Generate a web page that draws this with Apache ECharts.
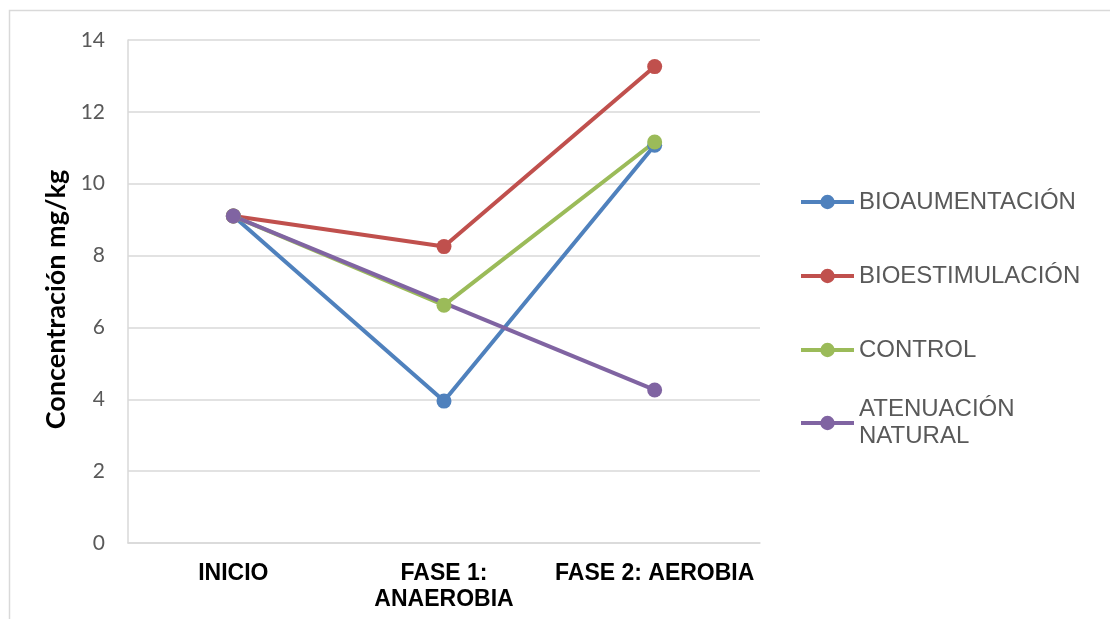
<!DOCTYPE html>
<html>
<head>
<meta charset="utf-8">
<script src="https://cdn.jsdelivr.net/npm/echarts@6/dist/echarts.min.js"></script>
<style>
  html, body { margin: 0; padding: 0; background: #fff; }
  #chart { width: 1110px; height: 619px; }
</style>
</head>
<body>
<div id="chart"></div>
<script>
// Sampling stages along the treatment
const categories = ['INICIO', 'FASE 1:\nANAEROBIA', 'FASE 2: AEROBIA'];

// Concentration (mg/kg) per treatment and stage
const bioaumentacion = [9.1, 3.95, 11.07];
const bioestimulacion = [9.1, 8.25, 13.26];
const control = [9.1, 6.62, 11.16];
const atenuacionNatural = [9.1, null, 4.26];

const yTicks = { min: 0, max: 14, interval: 2 };

const seriesDefs = [
  { name: 'BIOAUMENTACIÓN', data: bioaumentacion, color: '#4F81BD' },
  { name: 'BIOESTIMULACIÓN', data: bioestimulacion, color: '#C0504D' },
  { name: 'CONTROL', data: control, color: '#9BBB59' },
  { name: 'ATENUACIÓN NATURAL', data: atenuacionNatural, color: '#8064A2' }
];

const legendCenters = [202, 276, 350, 423];

const chart = echarts.init(document.getElementById('chart'), null, { renderer: 'canvas' });

const legendText = { fontFamily: 'Liberation Sans, Arial, sans-serif', fontSize: 24, color: '#595959' };

const legends = seriesDefs.map((s, i) => {
  const multi = s.name.indexOf(' ') > 0;
  return {
    orient: 'vertical',
    left: 799,
    top: multi ? legendCenters[i] - 40.5 : legendCenters[i] - 13.5,
    data: [s.name],
    itemWidth: 53,
    itemHeight: 18,
    itemGap: 0,
    padding: 0,
    selectedMode: false,
    lineStyle: { width: 4 },
    formatter: multi ? (n) => n.replace(' ', '\n') : '{name}',
    textStyle: multi
      ? Object.assign({}, legendText, { lineHeight: 27, padding: [27, 0, 0, 0] })
      : Object.assign({}, legendText, { lineHeight: 27 })
  };
});

chart.setOption({
  animation: false,
  backgroundColor: '#ffffff',
  graphic: [{
    type: 'rect',
    shape: { x: 9.5, y: 10.5, width: 1300, height: 800 },
    style: { fill: 'none', stroke: '#D9D9D9', lineWidth: 1.5 },
    silent: true,
    z: -10
  }],
  grid: { left: 128, right: 350, top: 40, bottom: 76, containLabel: false },
  legend: legends,
  xAxis: {
    type: 'category',
    data: categories,
    boundaryGap: true,
    axisLine: { show: true, lineStyle: { color: '#D9D9D9', width: 1.5 } },
    axisTick: { show: false },
    axisLabel: {
      margin: 18,
      interval: 0,
      fontFamily: 'Liberation Sans, Arial, sans-serif',
      fontWeight: 'bold',
      fontSize: 23,
      lineHeight: 26,
      color: '#000000'
    },
    splitLine: { show: false }
  },
  yAxis: {
    type: 'value',
    min: yTicks.min,
    max: yTicks.max,
    interval: yTicks.interval,
    name: 'Concentración mg/kg',
    nameLocation: 'middle',
    nameGap: 56,
    nameRotate: 90,
    nameTextStyle: {
      fontFamily: 'Lato, sans-serif',
      fontWeight: 'bold',
      fontSize: 27,
      color: '#000000',
      padding: [0, 16, 0, 0]
    },
    axisLine: { show: true, lineStyle: { color: '#D9D9D9', width: 1.5 } },
    axisTick: { show: false },
    axisLabel: {
      margin: 23,
      fontFamily: 'Lato, sans-serif',
      fontSize: 21,
      color: '#595959'
    },
    splitLine: { show: true, lineStyle: { color: '#D9D9D9', width: 1.5 } }
  },
  series: seriesDefs.map((s) => ({
    name: s.name,
    type: 'line',
    data: s.data,
    connectNulls: true,
    symbol: 'circle',
    symbolSize: 15,
    lineStyle: { color: s.color, width: 4 },
    itemStyle: { color: s.color },
    emphasis: { disabled: true }
  }))
});
</script>
</body>
</html>
